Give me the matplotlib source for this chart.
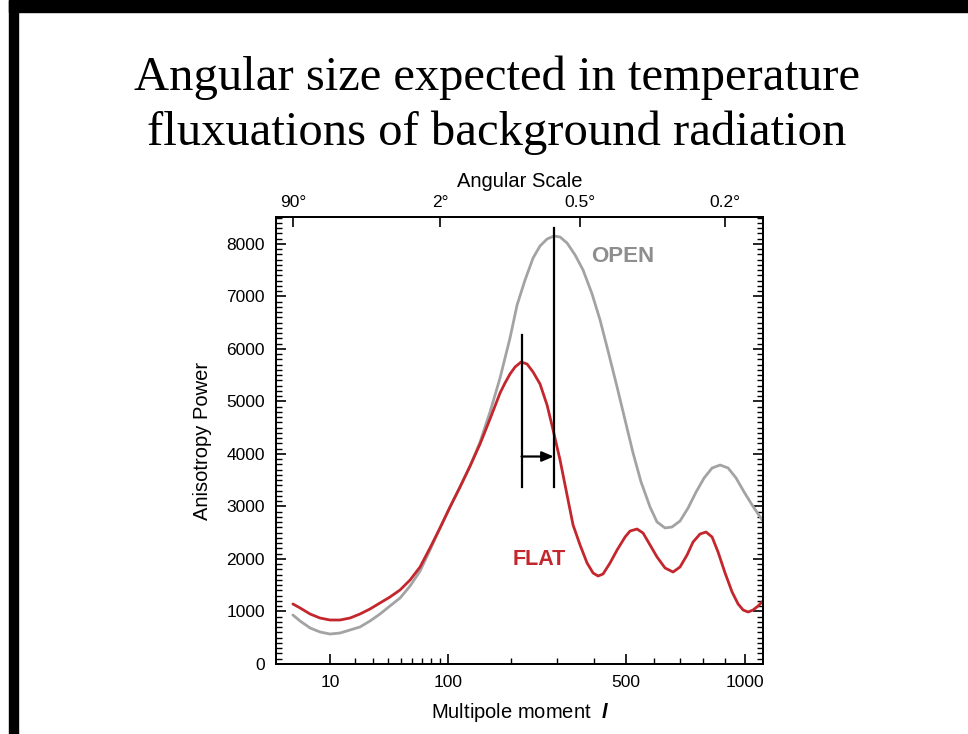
import numpy as np
import matplotlib
matplotlib.use("Agg")
import matplotlib.pyplot as plt
from matplotlib.patches import Rectangle
from matplotlib.ticker import FixedLocator, NullFormatter, MultipleLocator

# ---- data ----
open_l = [2, 3, 4.8, 7.1, 10, 13.5, 17.7, 22.5, 28.1, 34.4, 41.5, 49.5, 58.3, 67.9, 78.4,
          89.9, 102.3, 115.7, 130.2, 145.6, 162, 179.6, 198.2, 212, 228.3, 245.4, 260.9,
          277.1, 293.8, 308.6, 326.4, 347.6, 369.4, 395.1, 418.7, 443.1, 471.7, 497.9,
          525, 553, 585.5, 611.5, 642.2, 669.7, 702, 735.4, 769.7, 804.8, 840.8, 877.9,
          915.9, 954.7, 994.7, 1035.7, 1067.1, 1093]
open_p = [933, 819, 686, 610, 571, 590, 648, 705, 819, 952, 1105, 1257, 1486, 1771, 2171,
          2591, 2990, 3371, 3771, 4229, 4800, 5448, 6210, 6838, 7314, 7733, 7962, 8095,
          8152, 8133, 8019, 7791, 7505, 7048, 6552, 5962, 5276, 4648, 4019, 3467, 2990,
          2705, 2591, 2610, 2724, 2971, 3276, 3543, 3733, 3790, 3733, 3543, 3276, 3029,
          2857, 2724]

flat_l = [2, 3, 4.8, 7.1, 10, 13.5, 17.7, 22.5, 28.1, 34.4, 41.5, 49.5, 58.3, 67.9, 78.4,
          89.9, 102.3, 115.7, 130.2, 145.6, 162, 179.6, 188.7, 198.2, 208, 220.1, 232.5,
          245.4, 260.9, 277.1, 291.5, 308.6, 326.4, 342.2, 361.1, 380.7, 398, 412.7,
          427.7, 449.3, 471.7, 497.9, 514.8, 538.9, 560.1, 585.5, 611.5, 642.2, 673.8,
          702, 731.1, 756.6, 787, 813.6, 840.8, 868.4, 901.4, 935.2, 964.8, 989.7, 1015,
          1041, 1067, 1093]
flat_p = [1143, 1067, 952, 876, 838, 838, 876, 952, 1048, 1162, 1276, 1410, 1600, 1848,
          2210, 2591, 2990, 3371, 3771, 4191, 4667, 5162, 5352, 5524, 5657, 5752, 5714,
          5562, 5333, 4933, 4457, 3886, 3219, 2648, 2267, 1924, 1733, 1676, 1714, 1924,
          2171, 2419, 2533, 2571, 2495, 2267, 2038, 1829, 1752, 1848, 2076, 2324, 2476,
          2514, 2419, 2133, 1733, 1371, 1143, 1029, 990, 1029, 1105, 1200]

flat_peak_l, open_peak_l = 221, 293
flat_bar = (3371, 6267)
open_bar = (3371, 8305)
arrow_p = 3952

y_major = [0, 1000, 2000, 3000, 4000, 5000, 6000, 7000, 8000]
x_major = [10, 100, 500, 1000]
x_minor = [20, 30, 40, 50, 60, 70, 80, 90, 200, 300, 400, 600, 700, 800, 900]
angles = [90, 2, 0.5, 0.2]
angle_labels = ["90°", "2°", "0.5°", "0.2°"]

title_lines = ["Angular size expected in temperature", "fluxuations of background radiation"]

# ---- figure ----
W, H = 968, 734
fig = plt.figure(figsize=(W / 100, H / 100), dpi=100)
fig.patch.set_facecolor("white")

# slide border
fig.patches.append(Rectangle((9 / W, 1 - 12 / H), 1, 12 / H, transform=fig.transFigure,
                             color="black", zorder=0))
fig.patches.append(Rectangle((9 / W, 0), 9 / W, 1, transform=fig.transFigure,
                             color="black", zorder=0))

fig.text(497 / W, 1 - 90 / H, title_lines[0], family="Liberation Serif", fontsize=35,
         ha="center", va="baseline")
fig.text(497 / W, 1 - 145 / H, title_lines[1], family="Liberation Serif", fontsize=35,
         ha="center", va="baseline")

plt.rcParams["font.family"] = ["Liberation Sans", "DejaVu Sans"]
plt.rcParams["mathtext.fontset"] = "custom"
plt.rcParams["mathtext.it"] = "Liberation Sans:italic:bold"
plt.rcParams["mathtext.rm"] = "Liberation Sans"

ax = fig.add_axes([276 / W, 1 - 664 / H, (763 - 276) / W, (664 - 217) / H])

fwd = lambda x: np.sign(x) * np.abs(x) ** 0.4
inv = lambda u: np.sign(u) * np.abs(u) ** 2.5
ax.set_xscale("function", functions=(fwd, inv))
ax.set_xlim(0.532, 1093)
ax.set_ylim(0, 8514)

red = "#c3272d"
gray = "#a3a3a3"
ax.plot(open_l, open_p, color=gray, lw=2.0, solid_capstyle="round",
        solid_joinstyle="round", zorder=2)
ax.plot(flat_l, flat_p, color=red, lw=2.0, solid_capstyle="round",
        solid_joinstyle="round", zorder=3)

ax.plot([flat_peak_l, flat_peak_l], flat_bar, color="black", lw=1.6, zorder=4)
ax.plot([open_peak_l, open_peak_l], open_bar, color="black", lw=1.6, zorder=4)
ax.annotate("", xy=(open_peak_l, arrow_p), xytext=(flat_peak_l, arrow_p),
            arrowprops=dict(arrowstyle="-|>,head_length=0.7,head_width=0.3",
                            color="black", lw=1.6, shrinkA=0, shrinkB=0), zorder=5)

ax.text(491, 7771, "OPEN", color="#8e8e8e", fontsize=16, fontweight="bold",
        ha="center", va="center")
ax.text(260, 1981, "FLAT", color=red, fontsize=15.5, fontweight="bold",
        ha="center", va="center")

ax.xaxis.set_major_locator(FixedLocator(x_major))
ax.xaxis.set_minor_locator(FixedLocator(x_minor))
ax.set_xticklabels([str(v) for v in x_major])
ax.xaxis.set_minor_formatter(NullFormatter())
ax.yaxis.set_major_locator(FixedLocator(y_major))
ax.yaxis.set_minor_locator(MultipleLocator(100))
ax.set_yticklabels([str(v) for v in y_major])

ax.tick_params(axis="both", which="major", direction="in", length=7, width=1.2,
               labelsize=12.5, pad=8)
ax.tick_params(axis="both", which="minor", direction="in", length=4, width=1.0)
ax.tick_params(axis="y", which="both", right=True)
ax.tick_params(axis="x", which="both", top=False)
for s in ax.spines.values():
    s.set_linewidth(1.3)

ax.set_xlabel("Multipole moment  $\\mathit{l}$", fontsize=14.5, labelpad=8)
ax.set_ylabel("Anisotropy Power", fontsize=14.5, labelpad=10)

ax2 = ax.twiny()
ax2.set_xscale("function", functions=(fwd, inv))
ax2.set_xlim(ax.get_xlim())
ax2.xaxis.set_major_locator(FixedLocator([180 / a for a in angles]))
ax2.set_xticklabels(angle_labels)
ax2.xaxis.set_minor_locator(FixedLocator([]))
ax2.tick_params(axis="x", which="major", direction="in", length=7, width=1.2,
                labelsize=12.5, pad=5)
ax2.set_xlabel("Angular Scale", fontsize=14.5, labelpad=6)
for s in ax2.spines.values():
    s.set_linewidth(1.3)

fig.savefig("out.png", dpi=100)
